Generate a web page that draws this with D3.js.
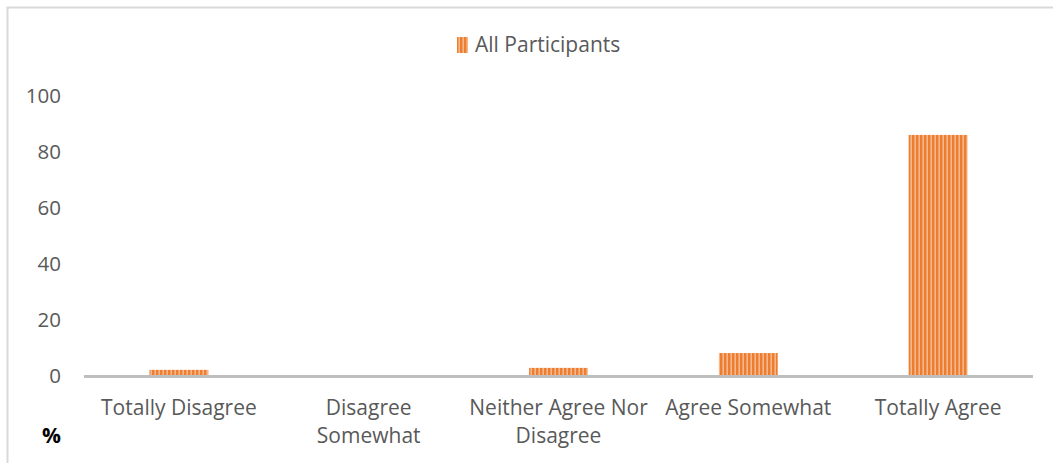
<!DOCTYPE html>
<html>
<head>
<meta charset="utf-8">
<script src="https://cdn.jsdelivr.net/npm/d3@7"></script>
<style>
  html, body { margin: 0; padding: 0; background: #fff; }
  svg { display: block; font-family: "Open Sans", sans-serif; }
</style>
</head>
<body>
<svg id="chart" width="1053" height="463"></svg>
<script>
const categories = ['Totally Disagree', 'Disagree Somewhat', 'Neither Agree Nor Disagree', 'Agree Somewhat', 'Totally Agree'];
const values = [2.2, 0, 2.9, 8.2, 86.1];
const yTicks = [0, 20, 40, 60, 80, 100];
const seriesName = 'All Participants';

const svg = d3.select('#chart');
const width = 1053;
const height = 463;
const textColor = '#595959';

// frame
svg.append('rect')
  .attr('x', 7.5).attr('y', 7.5)
  .attr('width', width).attr('height', height)
  .attr('fill', 'none').attr('stroke', '#d9d9d9').attr('stroke-width', 2);

// stripe pattern
const defs = svg.append('defs');
const pat = defs.append('pattern')
  .attr('id', 'stripes')
  .attr('patternUnits', 'userSpaceOnUse')
  .attr('width', 4).attr('height', 10);
pat.append('rect').attr('width', 4).attr('height', 10).attr('fill', '#f6b88a');
pat.append('rect').attr('width', 2.4).attr('height', 10).attr('fill', '#ed7d31');

const x = d3.scaleBand()
  .domain(categories)
  .range([84, 1033])
  .paddingInner(0.69)
  .paddingOuter(0.345);

const y = d3.scaleLinear().domain([0, 100]).range([376, 96]);

// y tick labels
svg.append('g')
  .selectAll('text')
  .data(yTicks)
  .enter().append('text')
  .attr('x', 61)
  .attr('y', (d) => y(d))
  .attr('dy', '0.35em')
  .attr('text-anchor', 'end')
  .attr('fill', textColor)
  .style('font-size', '20.5px')
  .text((d) => d);

// bars
svg.append('g')
  .selectAll('rect')
  .data(values)
  .enter().append('rect')
  .attr('x', (d, i) => x(categories[i]))
  .attr('y', (d) => y(d))
  .attr('width', x.bandwidth())
  .attr('height', (d) => y(0) - y(d))
  .attr('fill', 'url(#stripes)');

// baseline
svg.append('line')
  .attr('x1', 84).attr('x2', 1033)
  .attr('y1', y(0) + 0.5).attr('y2', y(0) + 0.5)
  .attr('stroke', '#bfbfbf').attr('stroke-width', 3);

// category labels, wrapped to the band step
const labels = svg.append('g')
  .selectAll('text')
  .data(categories)
  .enter().append('text')
  .attr('x', (d) => x(d) + x.bandwidth() / 2)
  .attr('y', 415)
  .attr('text-anchor', 'middle')
  .attr('fill', textColor)
  .style('font-size', '21px');

labels.each(function (d) {
  const t = d3.select(this);
  const words = d.split(' ');
  let line = [];
  let tspan = t.append('tspan').attr('x', t.attr('x')).attr('dy', 0);
  words.forEach((w) => {
    line.push(w);
    tspan.text(line.join(' '));
    if (tspan.node().getComputedTextLength() > 186 && line.length > 1) {
      line.pop();
      tspan.text(line.join(' '));
      line = [w];
      tspan = t.append('tspan').attr('x', t.attr('x')).attr('dy', 28).text(w);
    }
  });
});

// legend
svg.append('rect')
  .attr('x', 457).attr('y', 37)
  .attr('width', 11).attr('height', 16)
  .attr('fill', 'url(#stripes)');
svg.append('text')
  .attr('x', 475).attr('y', 45)
  .attr('dy', '0.35em')
  .attr('fill', textColor)
  .style('font-size', '21px')
  .text(seriesName);

// unit mark
svg.append('text')
  .attr('x', 42).attr('y', 443)
  .attr('fill', '#000')
  .style('font-size', '21px')
  .style('font-weight', 'bold')
  .text('%');
</script>
</body>
</html>
